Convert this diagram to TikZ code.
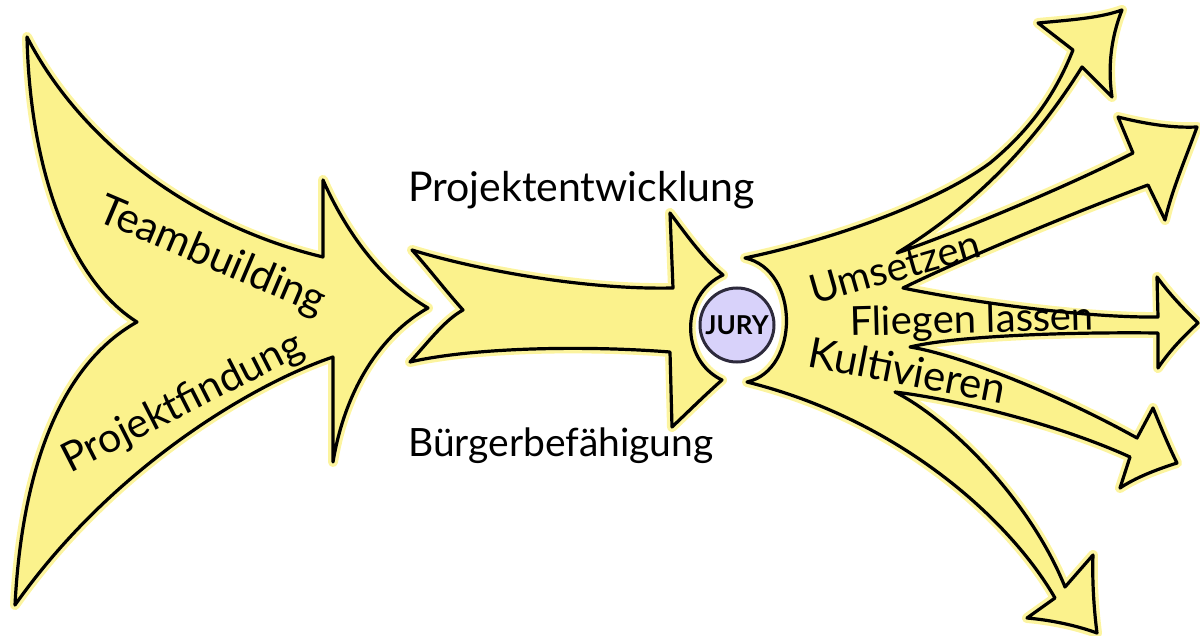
\documentclass[tikz,border=0pt]{standalone}
\usepackage{fontspec}
\setmainfont{Lato}
\definecolor{ylw}{RGB}{251,242,140}
\definecolor{ylwhalo}{RGB}{250,236,95}
\definecolor{jurybg}{RGB}{216,210,250}
\definecolor{juryline}{RGB}{45,42,60}
\begin{document}
\begin{tikzpicture}[x=1pt,y=-1pt,
  blob/.style={fill=ylw, draw=black, line width=3.2pt, line join=round, line cap=round,
    preaction={draw=ylwhalo, line width=10pt, opacity=0.6, line join=round}},
  lbl/.style={anchor=base west, inner sep=0pt, text=black}]
\useasboundingbox (0,0) rectangle (1200,636);

% left big arrow
\path[blob] (27,37) .. controls (80,140) and (190,225) .. (323,257)
  -- (323,180)
  .. controls (345,230) and (380,280) .. (428,308)
  .. controls (380,335) and (345,390) .. (333,462)
  -- (333,357)
  .. controls (250,385) and (110,470) .. (15,605)
  .. controls (22,470) and (60,365) .. (137,322)
  .. controls (70,280) and (30,170) .. (27,37) -- cycle;

% middle arrow
\path[blob] (412,250) .. controls (470,268) and (580,290) .. (673,288)
  -- (670,213)
  .. controls (690,240) and (705,260) .. (723,275)
  .. controls (680,295) and (680,360) .. (722,380)
  .. controls (705,395) and (690,410) .. (672,427)
  -- (670,352)
  .. controls (580,345) and (470,348) .. (410,362)
  .. controls (430,340) and (445,320) .. (463,310)
  .. controls (445,290) and (430,270) .. (412,250) -- cycle;

% right fan of five arrows
\path[blob] (745,258)
  .. controls (840,238) and (940,200) .. (990,163)
  .. controls (1030,130) and (1055,95) .. (1073,50)
  -- (1038,23)
  .. controls (1070,20) and (1100,18) .. (1122,10)
  .. controls (1110,40) and (1108,70) .. (1112,97)
  -- (1082,67)
  .. controls (1055,110) and (1000,190) .. (897,253)
  .. controls (950,235) and (1060,190) .. (1133,153)
  -- (1118,117)
  .. controls (1150,125) and (1175,128) .. (1197,127)
  .. controls (1185,160) and (1172,190) .. (1165,220)
  -- (1148,185)
  .. controls (1080,210) and (960,260) .. (903,288)
  .. controls (960,300) and (1080,318) .. (1158,317)
  -- (1157,277)
  .. controls (1170,295) and (1185,310) .. (1198,323)
  .. controls (1185,335) and (1170,350) .. (1158,368)
  -- (1158,333)
  .. controls (1080,332) and (960,335) .. (910,347)
  .. controls (960,355) and (1060,395) .. (1137,438)
  -- (1153,408)
  .. controls (1160,425) and (1168,445) .. (1177,463)
  .. controls (1155,470) and (1135,478) .. (1120,488)
  -- (1130,457)
  .. controls (1060,425) and (960,400) .. (895,392)
  .. controls (950,420) and (1030,500) .. (1065,587)
  -- (1093,555)
  .. controls (1092,580) and (1094,610) .. (1097,633)
  .. controls (1075,625) and (1050,620) .. (1027,618)
  -- (1055,598)
  .. controls (1010,520) and (900,420) .. (747,382)
  .. controls (800,370) and (800,270) .. (745,258) -- cycle;

% jury circle
\node[circle, minimum size=74pt, inner sep=0pt, fill=jurybg, draw=juryline, line width=3pt,
  font=\fontsize{26}{28}\selectfont\bfseries] (jury) at (737,325) {JURY};

% labels
\node[lbl, rotate=-23, font=\fontsize{42}{48}\selectfont] (team) at (95,220) {Teambuilding};
\node[lbl, rotate=27, font=\fontsize{41}{48}\selectfont] (pfind) at (70,474) {Projektfindung};
\node[lbl, font=\fontsize{41}{48}\selectfont] (pentw) at (408,202) {Projektentwicklung};
\node[lbl, font=\fontsize{39}{46}\selectfont] (buerger) at (408,456) {Bürgerbefähigung};
\node[lbl, rotate=16, font=\fontsize{40}{46}\selectfont] (umsetzen) at (814,305) {Umsetzen};
\node[lbl, rotate=1.5, font=\fontsize{40}{46}\selectfont] (fliegen) at (850,336) {Fliegen lassen};
\node[lbl, rotate=-11, font=\fontsize{42}{48}\selectfont] (kult) at (806,366) {Kultivieren};
\end{tikzpicture}
\end{document}
